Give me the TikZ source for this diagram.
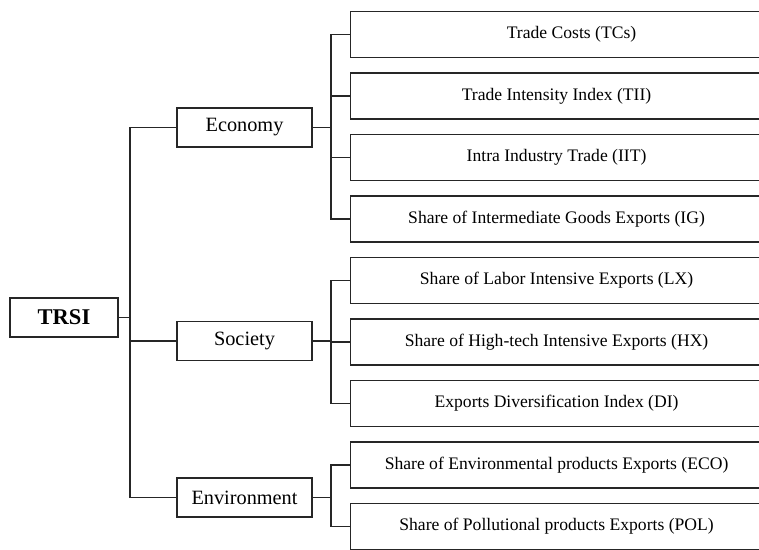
\documentclass[tikz,border=0pt]{standalone}
\usepackage{fontspec}
\setmainfont{Liberation Serif}
\begin{document}
\begin{tikzpicture}[x=1pt,y=-1pt,
  leaf/.style={draw=black!85, line width=1.1pt, rectangle, minimum width=424pt, minimum height=46pt, inner sep=0pt, font=\fontsize{17.6}{19}\selectfont, anchor=west},
  cat/.style={draw=black!85, line width=1.1pt, rectangle, minimum width=135pt, minimum height=39pt, inner sep=0pt, font=\fontsize{20.3}{22}\selectfont},
  root/.style={draw=black!85, line width=1.1pt, rectangle, minimum width=108pt, minimum height=39pt, inner sep=0pt, font=\fontsize{22.5}{24}\selectfont\bfseries},
  wire/.style={draw=black!85, line width=1.1pt}]
\useasboundingbox (0,0) rectangle (759,549);
% root
\node[root] (trsi) at (64,317.5) {TRSI};
% categories
\node[cat] (eco) at (244.5,127.5) {Economy};
\node[cat] (soc) at (244.5,341) {Society};
\node[cat] (env) at (244.5,497.5) {Environment};
% leaves (their right ends run past the picture's edge)
\node[leaf] (l1) at (350,34.5) {\hspace*{18pt}Trade Costs (TCs)};
\node[leaf] (l2) at (350,96) {\hspace*{-12pt}Trade Intensity Index (TII)};
\node[leaf] (l3) at (350,157.5) {\hspace*{-12pt}Intra Industry Trade (IIT)};
\node[leaf] (l4) at (350,219) {\hspace*{-12pt}Share of Intermediate Goods Exports (IG)};
\node[leaf] (l5) at (350,280.5) {\hspace*{-12pt}Share of Labor Intensive Exports (LX)};
\node[leaf] (l6) at (350,342) {\hspace*{-12pt}Share of High-tech Intensive Exports (HX)};
\node[leaf] (l7) at (350,403.5) {\hspace*{-12pt}Exports Diversification Index (DI)};
\node[leaf] (l8) at (350,465) {\hspace*{-12pt}Share of Environmental products Exports (ECO)};
\node[leaf] (l9) at (350,526.5) {\hspace*{-12pt}Share of Pollutional products Exports (POL)};
% bus coordinates
\coordinate (rb) at (130,0);
\coordinate (cb) at (331,0);
% root to categories
\draw[wire] (trsi.east) -- (trsi.east -| rb);
\draw[wire] (eco.west) -- (eco.west -| rb) -- (env.west -| rb) -- (env.west);
\draw[wire] (soc.west) -- (soc.west -| rb);
% economy
\draw[wire] (eco.east) -- (eco.east -| cb);
\draw[wire] (l1.west) -- (l1.west -| cb) -- (l4.west -| cb) -- (l4.west);
\draw[wire] (l2.west) -- (l2.west -| cb);
\draw[wire] (l3.west) -- (l3.west -| cb);
% society
\draw[wire] (soc.east) -- (soc.east -| cb);
\draw[wire] (l5.west) -- (l5.west -| cb) -- (l7.west -| cb) -- (l7.west);
\draw[wire] (l6.west) -- (l6.west -| cb);
% environment
\draw[wire] (env.east) -- (env.east -| cb);
\draw[wire] (l8.west) -- (l8.west -| cb) -- (l9.west -| cb) -- (l9.west);
\end{tikzpicture}
\end{document}
